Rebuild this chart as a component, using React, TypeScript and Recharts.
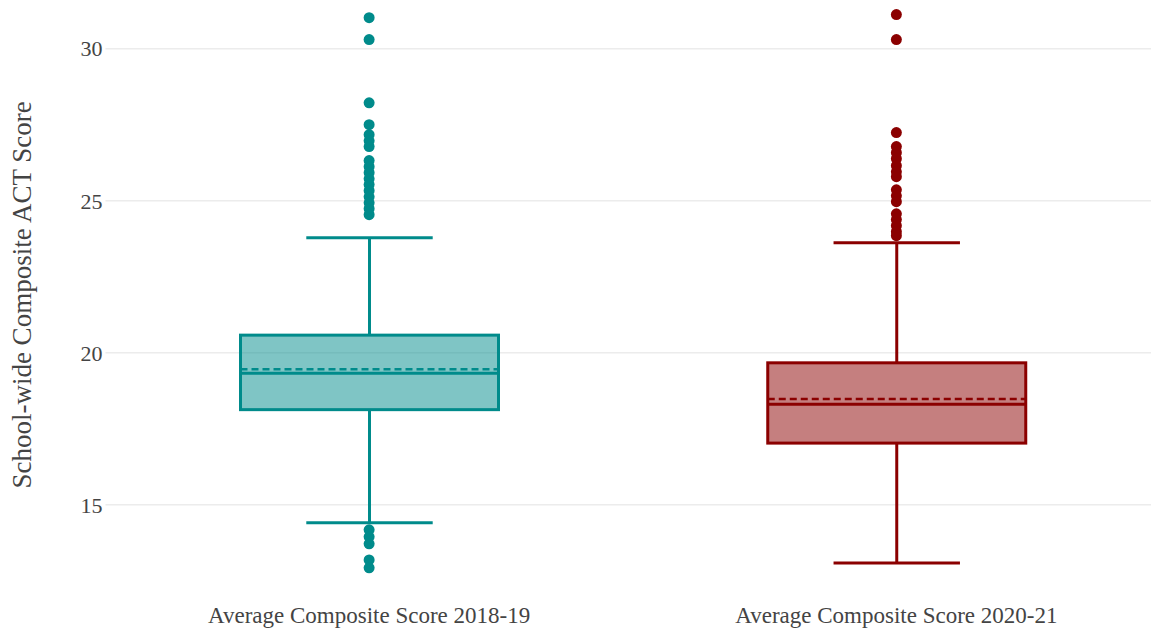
import React from "react";
import { ComposedChart, Bar, Scatter, XAxis, YAxis, CartesianGrid } from "recharts";

const categories = ["Average Composite Score 2018-19", "Average Composite Score 2020-21"];
const lowerWhisker = [14.41, 13.09];
const q1 = [18.13, 17.03];
const median = [19.33, 18.31];
const q3 = [20.58, 19.67];
const upperWhisker = [23.78, 23.62];
const means = [19.46, 18.48];
const outliers2018 = [31.02, 30.3, 28.22, 27.5, 27.17, 26.97, 26.78, 26.32, 26.12, 25.92, 25.72, 25.53, 25.33, 25.13, 24.93, 24.74, 24.54, 14.18, 13.95, 13.72, 13.19, 12.93];
const outliers2020 = [31.12, 30.3, 27.24, 26.78, 26.58, 26.38, 26.15, 25.95, 25.79, 25.36, 25.16, 24.97, 24.57, 24.38, 24.18, 23.98, 23.85];
const strokeColors = ["#008b8b", "#8b0000"];
const fillColors = ["rgba(0,139,139,0.5)", "rgba(139,0,0,0.5)"];
const yTicks = [15, 20, 25, 30];

const data = categories.map((name, i) => ({
  name,
  range: [lowerWhisker[i], upperWhisker[i]],
  lo: lowerWhisker[i],
  hi: upperWhisker[i],
  q1: q1[i],
  median: median[i],
  q3: q3[i],
  mean: means[i],
  idx: i,
}));

const scatter2018 = outliers2018.map((v) => ({ name: categories[0], value: v }));
const scatter2020 = outliers2020.map((v) => ({ name: categories[1], value: v }));

const BoxShape = (props: any) => {
  const { x, y, width, height, payload } = props;
  const p = payload;
  const ppu = height / (p.hi - p.lo);
  const toY = (v: number) => y + (p.hi - v) * ppu;
  const cx = x + width / 2;
  const capHalf = width * 0.245;
  const sc = strokeColors[p.idx];
  const fc = fillColors[p.idx];
  const sw = 3;
  return (
    <g>
      <line x1={cx} x2={cx} y1={toY(p.hi)} y2={toY(p.q3)} stroke={sc} strokeWidth={sw} />
      <line x1={cx} x2={cx} y1={toY(p.q1)} y2={toY(p.lo)} stroke={sc} strokeWidth={sw} />
      <line x1={cx - capHalf} x2={cx + capHalf} y1={toY(p.hi)} y2={toY(p.hi)} stroke={sc} strokeWidth={sw} />
      <line x1={cx - capHalf} x2={cx + capHalf} y1={toY(p.lo)} y2={toY(p.lo)} stroke={sc} strokeWidth={sw} />
      <rect x={x} y={toY(p.q3)} width={width} height={toY(p.q1) - toY(p.q3)} fill={fc} stroke={sc} strokeWidth={sw} />
      <line x1={x} x2={x + width} y1={toY(p.median)} y2={toY(p.median)} stroke={sc} strokeWidth={sw} />
      <line x1={x} x2={x + width} y1={toY(p.mean)} y2={toY(p.mean)} stroke={sc} strokeWidth={2.5} strokeDasharray="7 4" />
    </g>
  );
};

const dot = (color: string) => (props: any) => (
  <circle cx={props.cx} cy={props.cy} r={5.5} fill={color} />
);

export default function App() {
  return (
    <div style={{ position: "absolute", left: 0, top: 0, width: 1151, height: 632, overflow: "hidden", background: "#fff" }}>
      <ComposedChart
        width={1160}
        height={632}
        data={data}
        margin={{ top: 0, right: 0, bottom: 0, left: 0 }}
        barSize={258}
      >
        <CartesianGrid horizontal vertical={false} horizontalValues={yTicks} stroke="#ececec" strokeWidth={1.5} />
        <XAxis
          dataKey="name"
          type="category"
          allowDuplicatedCategory={false}
          axisLine={false}
          tickLine={false}
          tickSize={0}
          tickMargin={17}
          height={42}
          interval={0}
          tick={{ fill: "#444", fontFamily: "Liberation Serif", fontSize: 23 }}
        />
        <YAxis
          type="number"
          domain={[12.2, 31.6]}
          ticks={yTicks}
          axisLine={false}
          tickLine={false}
          tickSize={0}
          tickMargin={3}
          width={105.5}
          tick={{ fill: "#444", fontFamily: "Liberation Serif", fontSize: 22 }}
          label={{
            value: "School-wide Composite ACT Score",
            angle: -90,
            position: "center",
            dx: -31,
            fill: "#444",
            fontFamily: "Liberation Serif",
            fontSize: 27,
          }}
        />
        <Bar dataKey="range" shape={BoxShape} isAnimationActive={false} />
        <Scatter data={scatter2018} dataKey="value" shape={dot(strokeColors[0])} isAnimationActive={false} />
        <Scatter data={scatter2020} dataKey="value" shape={dot(strokeColors[1])} isAnimationActive={false} />
      </ComposedChart>
    </div>
  );
}
